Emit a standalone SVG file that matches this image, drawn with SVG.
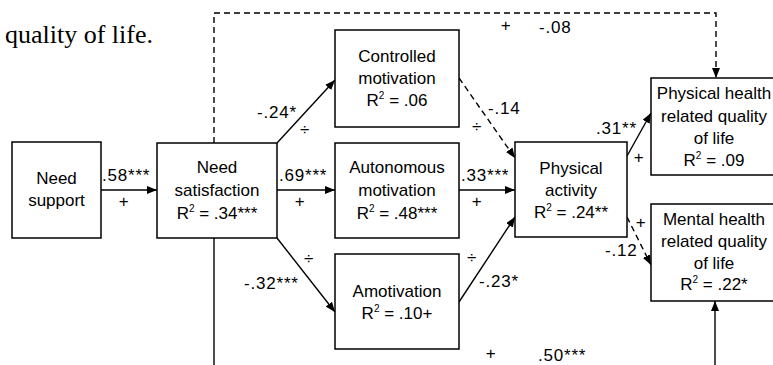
<svg xmlns="http://www.w3.org/2000/svg" width="773" height="365" viewBox="0 0 773 365">
  <style>
    .box { fill: #fff; stroke: #000; stroke-width: 1.5; }
    .t { font-family: "Liberation Sans", Arial, sans-serif; font-size: 17px; fill: #000; text-anchor: middle; }
    .lbl { font-family: "Liberation Sans", Arial, sans-serif; font-size: 17px; letter-spacing: 0.8px; fill: #000; }
    .sup { font-size: 10px; }
    .ln { fill: none; stroke: #000; stroke-width: 1.4; }
    .dash { stroke-dasharray: 6 4; }
    .serif { font-family: "Liberation Serif", "Times New Roman", serif; font-size: 26px; fill: #000; }
  </style>
  <defs>
    <marker id="arrow" viewBox="0 0 10 8" refX="10" refY="4" markerWidth="10" markerHeight="8" markerUnits="userSpaceOnUse" orient="auto">
      <path d="M0,0 L10,4 L0,8 Z" fill="#000"/>
    </marker>
  </defs>

  <text class="serif" x="5" y="43">quality of life.</text>

  <g id="connectors">
    <!-- long dashed path over the top -->
    <polyline class="ln dash" points="214,143 214,13 716,13 716,78" marker-end="url(#arrow)"/>
    <!-- long solid path under the bottom -->
    <line class="ln" x1="214" y1="238" x2="214" y2="365"/>
    <line class="ln" x1="715" y1="365" x2="715" y2="301" marker-end="url(#arrow)"/>
    <line class="ln" x1="101" y1="190" x2="157" y2="190" marker-end="url(#arrow)"/>
    <line class="ln" x1="277" y1="190" x2="335" y2="190" marker-end="url(#arrow)"/>
    <line class="ln" x1="277" y1="143" x2="335" y2="80" marker-end="url(#arrow)"/>
    <line class="ln" x1="277" y1="238" x2="335" y2="312" marker-end="url(#arrow)"/>
    <line class="ln dash" x1="459" y1="78" x2="515" y2="158" marker-end="url(#arrow)"/>
    <line class="ln" x1="459" y1="190" x2="515" y2="190" marker-end="url(#arrow)"/>
    <line class="ln" x1="459" y1="302" x2="515" y2="217" marker-end="url(#arrow)"/>
    <line class="ln" x1="627" y1="156" x2="651" y2="113" marker-end="url(#arrow)"/>
    <line class="ln dash" x1="627" y1="217" x2="651" y2="265" marker-end="url(#arrow)"/>

    <text class="lbl" x="102" y="181">.58***</text>
    <text class="lbl" x="124" y="207" text-anchor="middle">+</text>
    <text class="lbl" x="279" y="181">.69***</text>
    <text class="lbl" x="300" y="207" text-anchor="middle">+</text>
    <text class="lbl" x="257" y="118">-.24*</text>
    <text class="lbl" x="305" y="135" text-anchor="middle">÷</text>
    <text class="lbl" x="244" y="289">-.32***</text>
    <text class="lbl" x="309" y="264" text-anchor="middle">÷</text>
    <text class="lbl" x="488" y="114">-.14</text>
    <text class="lbl" x="477" y="132" text-anchor="middle">÷</text>
    <text class="lbl" x="461" y="181">.33***</text>
    <text class="lbl" x="477" y="207" text-anchor="middle">+</text>
    <text class="lbl" x="472" y="263" text-anchor="middle">÷</text>
    <text class="lbl" x="479" y="287">-.23*</text>
    <text class="lbl" x="596" y="134">.31**</text>
    <text class="lbl" x="639" y="163" text-anchor="middle">+</text>
    <text class="lbl" x="641" y="228" text-anchor="middle">+</text>
    <text class="lbl" x="605" y="256">-.12</text>
    <text class="lbl" x="506" y="31" text-anchor="middle">+</text>
    <text class="lbl" x="539" y="33">-.08</text>
    <text class="lbl" x="491" y="359" text-anchor="middle">+</text>
    <text class="lbl" x="538" y="361">.50***</text>
  </g>

  <g id="need-support">
    <rect class="box" x="12" y="142" width="89" height="96"/>
    <text class="t" x="56.5" y="184">Need</text>
    <text class="t" x="56.5" y="206">support</text>
  </g>

  <g id="need-satisfaction">
    <rect class="box" x="157" y="143" width="120" height="95"/>
    <text class="t" x="217" y="173">Need</text>
    <text class="t" x="217" y="196">satisfaction</text>
    <text class="t" x="217" y="219">R<tspan class="sup" dy="-7">2</tspan><tspan dy="7"> = .34***</tspan></text>
  </g>

  <g id="controlled-motivation">
    <rect class="box" x="335" y="30" width="124" height="97"/>
    <text class="t" x="397" y="62">Controlled</text>
    <text class="t" x="397" y="84">motivation</text>
    <text class="t" x="397" y="106">R<tspan class="sup" dy="-7">2</tspan><tspan dy="7"> = .06</tspan></text>
  </g>

  <g id="autonomous-motivation">
    <rect class="box" x="335" y="143" width="124" height="95"/>
    <text class="t" x="397" y="173">Autonomous</text>
    <text class="t" x="397" y="196">motivation</text>
    <text class="t" x="397" y="219">R<tspan class="sup" dy="-7">2</tspan><tspan dy="7"> = .48***</tspan></text>
  </g>

  <g id="amotivation">
    <rect class="box" x="335" y="254" width="124" height="95"/>
    <text class="t" x="397" y="297">Amotivation</text>
    <text class="t" x="397" y="319">R<tspan class="sup" dy="-7">2</tspan><tspan dy="7"> = .10+</tspan></text>
  </g>

  <g id="physical-activity">
    <rect class="box" x="515" y="142" width="112" height="95"/>
    <text class="t" x="571" y="174">Physical</text>
    <text class="t" x="571" y="196">activity</text>
    <text class="t" x="571" y="218">R<tspan class="sup" dy="-7">2</tspan><tspan dy="7"> = .24**</tspan></text>
  </g>

  <g id="physical-health-qol">
    <rect class="box" x="651" y="78" width="127" height="97"/>
    <text class="t" x="714" y="99">Physical health</text>
    <text class="t" x="714" y="122">related quality</text>
    <text class="t" x="714" y="144">of life</text>
    <text class="t" x="714" y="166">R<tspan class="sup" dy="-7">2</tspan><tspan dy="7"> = .09</tspan></text>
  </g>

  <g id="mental-health-qol">
    <rect class="box" x="651" y="204" width="127" height="97"/>
    <text class="t" x="714" y="225">Mental health</text>
    <text class="t" x="714" y="247">related quality</text>
    <text class="t" x="714" y="269">of life</text>
    <text class="t" x="714" y="290">R<tspan class="sup" dy="-7">2</tspan><tspan dy="7"> = .22*</tspan></text>
  </g>
</svg>
